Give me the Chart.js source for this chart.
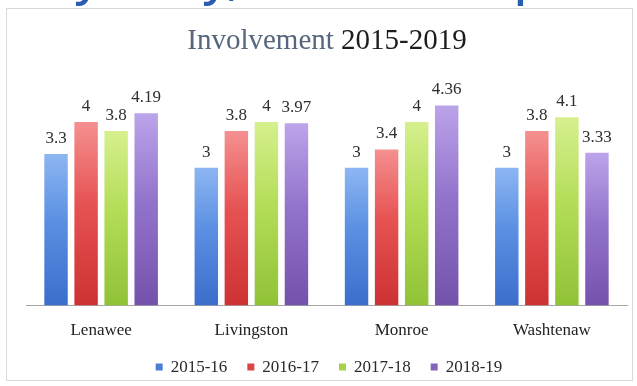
<!DOCTYPE html>
<html>
<head>
<meta charset="utf-8">
<script src="https://cdn.jsdelivr.net/npm/chart.js@4.4.1/dist/chart.umd.min.js"></script>
<style>
  html, body { margin: 0; padding: 0; background: #fff; overflow: hidden; }
  #wrap { position: relative; width: 637px; height: 386px; }
  canvas { display: block; }
</style>
</head>
<body>
<div id="wrap"><canvas id="c" width="637" height="386"></canvas></div>
<script>
// County groups along the x axis
const categories = ['Lenawee', 'Livingston', 'Monroe', 'Washtenaw'];
// School years, one bar series each
const seriesNames = ['2015-16', '2016-17', '2017-18', '2018-19'];
// Average involvement score per county
const values1516 = [3.3, 3, 3, 3];
const values1617 = [4, 3.8, 3.4, 3.8];
const values1718 = [3.8, 4, 4, 4.1];
const values1819 = [4.19, 3.97, 4.36, 3.33];
const yMax = 5;

const seriesValues = [values1516, values1617, values1718, values1819];
// [top, middle, bottom, legend swatch]
const palette = [
  ['#8db6f2', '#5a8fe2', '#3b6ecb', '#4a7fd6'],
  ['#f59090', '#e65252', '#cd3232', '#dd4545'],
  ['#d6f08e', '#b4dd58', '#90c236', '#a6d14a'],
  ['#bca4ea', '#9374cc', '#7452ab', '#8464bd']
];

const SERIF = '"Liberation Serif", "DejaVu Serif", serif';

function barFill(top, mid, bottom) {
  return (ctx) => {
    const chart = ctx.chart;
    if (!chart.chartArea || ctx.type !== 'data') return mid;
    const ys = chart.scales.y;
    const y0 = ys.getPixelForValue(ctx.raw);
    const y1 = ys.getPixelForValue(0);
    const g = chart.ctx.createLinearGradient(0, y0, 0, y1);
    g.addColorStop(0, top);
    g.addColorStop(0.45, mid);
    g.addColorStop(1, bottom);
    return g;
  };
}

const datasets = seriesNames.map((name, i) => ({
  label: name,
  data: seriesValues[i],
  backgroundColor: barFill(palette[i][0], palette[i][1], palette[i][2]),
  borderWidth: 0,
  categoryPercentage: 0.8,
  barPercentage: 0.78
}));

// Page frame, heading remnants and chart title
const framePlugin = {
  id: 'frame',
  beforeDraw(chart) {
    const c = chart.ctx;
    c.save();
    c.fillStyle = '#ffffff';
    c.fillRect(0, 0, chart.width, chart.height);
    c.strokeStyle = '#d9d9d9';
    c.lineWidth = 1;
    c.strokeRect(6.5, 8.5, 626, 372);
    // slide heading sitting above the chart box
    c.fillStyle = '#2a5cb0';
    c.font = '600 46px "Open Sans", sans-serif';
    c.textBaseline = 'alphabetic';
    c.textAlign = 'left';
    c.fillText('y', 75, -5);
    c.fillText('y,', 203, -5);
    c.fillText('p', 514, -5);
    c.restore();
  },
  afterDraw(chart) {
    const c = chart.ctx;
    c.save();
    c.font = '29px ' + SERIF;
    c.textBaseline = 'alphabetic';
    c.textAlign = 'left';
    const a = 'Involvement ';
    const b = '2015-2019';
    const wa = c.measureText(a).width;
    const wb = c.measureText(b).width;
    let x = 327 - (wa + wb) / 2;
    c.fillStyle = '#56667c';
    c.fillText(a, x, 49);
    c.fillStyle = '#1d1d1d';
    c.fillText(b, x + wa, 49);

    // legend row
    c.font = '17px ' + SERIF;
    c.textBaseline = 'middle';
    const box = 7, gap = 8, spacing = 20;
    const widths = seriesNames.map(n => box + gap + c.measureText(n).width);
    const total = widths.reduce((s, w) => s + w, 0) + spacing * (widths.length - 1);
    x = 329 - total / 2;
    const ly = 367;
    seriesNames.forEach((n, i) => {
      c.fillStyle = palette[i][3];
      c.fillRect(x, ly - box / 2, box, box);
      c.fillStyle = '#2a2a2a';
      c.fillText(n, x + box + gap, ly + 1);
      x += widths[i] + spacing;
    });
    c.restore();
  }
};

// Value labels above each bar
const valueLabels = {
  id: 'valueLabels',
  afterDatasetsDraw(chart) {
    const c = chart.ctx;
    c.save();
    c.font = '17px ' + SERIF;
    c.fillStyle = '#2e2e2e';
    c.textAlign = 'center';
    c.textBaseline = 'alphabetic';
    chart.data.datasets.forEach((ds, di) => {
      chart.getDatasetMeta(di).data.forEach((el, i) => {
        c.fillText(String(ds.data[i]), el.x, el.y - 11);
      });
    });
    c.restore();
  }
};

new Chart(document.getElementById('c'), {
  type: 'bar',
  data: { labels: categories, datasets },
  options: {
    responsive: false,
    animation: false,
    devicePixelRatio: 1,
    layout: { padding: { left: 26, right: 10, top: 76, bottom: 30 } },
    plugins: {
      legend: { display: false },
      title: { display: false },
      tooltip: { enabled: false }
    },
    scales: {
      x: {
        grid: { display: false, drawTicks: false },
        border: { display: true, color: '#a6a6a6', width: 1 },
        ticks: { color: '#222', padding: 15, font: { family: SERIF, size: 17 } }
      },
      y: {
        display: false,
        min: 0,
        max: yMax
      }
    }
  },
  plugins: [framePlugin, valueLabels]
});
</script>
</body>
</html>
